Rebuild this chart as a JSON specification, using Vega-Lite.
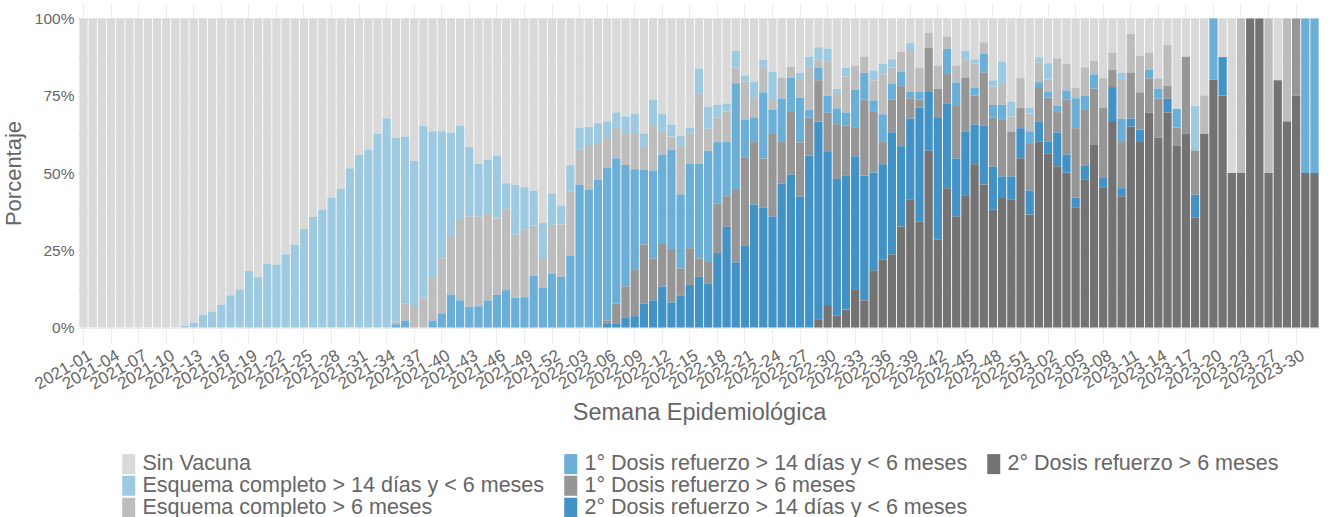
{
  "$schema": "https://vega.github.io/schema/vega-lite/v6.json",
  "autosize": {"type": "none"},
  "padding": {"left": 78, "top": 3, "right": 9, "bottom": 174},
  "width": 1242,
  "height": 340,
  "background": "white",
  "config": {"font": "Liberation Sans", "view": {"stroke": null}},
  "datasets": {
    "categorias": [
      {"k": "r2_6", "label": "2° Dosis refuerzo > 6 meses", "o": 1},
      {"k": "r2_14", "label": "2° Dosis refuerzo > 14 días y < 6 meses", "o": 2},
      {"k": "r1_6", "label": "1° Dosis refuerzo > 6 meses", "o": 3},
      {"k": "r1_14", "label": "1° Dosis refuerzo > 14 días y < 6 meses", "o": 4},
      {"k": "e6", "label": "Esquema completo > 6 meses", "o": 5},
      {"k": "e14", "label": "Esquema completo > 14 días y < 6 meses", "o": 6},
      {"k": "sv", "label": "Sin Vacuna", "o": 7}
    ],
    "semanas": [
      {"semana": "2021-01", "sv": 100},
      {"semana": "2021-02", "sv": 100},
      {"semana": "2021-03", "sv": 100},
      {"semana": "2021-04", "sv": 100},
      {"semana": "2021-05", "sv": 100},
      {"semana": "2021-06", "sv": 100},
      {"semana": "2021-07", "sv": 100},
      {"semana": "2021-08", "sv": 100},
      {"semana": "2021-09", "sv": 100},
      {"semana": "2021-10", "sv": 100},
      {"semana": "2021-11", "sv": 100},
      {"semana": "2021-12", "sv": 99.4, "e14": 0.6},
      {"semana": "2021-13", "sv": 98.4, "e14": 1.6},
      {"semana": "2021-14", "sv": 95.8, "e14": 4.2},
      {"semana": "2021-15", "sv": 94.8, "e14": 5.2},
      {"semana": "2021-16", "sv": 92.6, "e14": 7.4},
      {"semana": "2021-17", "sv": 89.6, "e14": 10.4},
      {"semana": "2021-18", "sv": 87.7, "e14": 12.3},
      {"semana": "2021-19", "sv": 81.7, "e14": 18.3},
      {"semana": "2021-20", "sv": 83.7, "e14": 16.3},
      {"semana": "2021-21", "sv": 79.3, "e14": 20.7},
      {"semana": "2021-22", "sv": 79.6, "e14": 20.4},
      {"semana": "2021-23", "sv": 76.3, "e14": 23.7},
      {"semana": "2021-24", "sv": 73.2, "e14": 26.8},
      {"semana": "2021-25", "sv": 68.1, "e14": 31.9},
      {"semana": "2021-26", "sv": 64.2, "e14": 35.8},
      {"semana": "2021-27", "sv": 61.8, "e14": 38.2},
      {"semana": "2021-28", "sv": 57.9, "e14": 42.1},
      {"semana": "2021-29", "sv": 55.2, "e14": 44.8},
      {"semana": "2021-30", "sv": 48.5, "e14": 51.5},
      {"semana": "2021-31", "sv": 44.2, "e14": 55.8},
      {"semana": "2021-32", "sv": 42.4, "e14": 57.6},
      {"semana": "2021-33", "sv": 37.3, "e14": 62.7},
      {"semana": "2021-34", "sv": 32.4, "e14": 67.6},
      {"semana": "2021-35", "sv": 38.7, "e14": 59.3, "e6": 0.9, "r1_14": 1.1},
      {"semana": "2021-36", "sv": 38.2, "e14": 54.1, "e6": 5.4, "r1_14": 2.3},
      {"semana": "2021-37", "sv": 46.0, "e14": 47.0, "e6": 7.0},
      {"semana": "2021-38", "sv": 34.8, "e14": 55.6, "e6": 9.6},
      {"semana": "2021-39", "sv": 36.5, "e14": 47.2, "e6": 14.0, "r1_14": 2.3},
      {"semana": "2021-40", "sv": 36.5, "e14": 41.1, "e6": 17.8, "r1_14": 4.6},
      {"semana": "2021-41", "sv": 37.0, "e14": 33.1, "e6": 19.2, "r1_14": 10.7},
      {"semana": "2021-42", "sv": 34.6, "e14": 30.6, "e6": 26.0, "r1_14": 8.8},
      {"semana": "2021-43", "sv": 41.6, "e14": 22.4, "e6": 29.3, "r1_14": 6.7},
      {"semana": "2021-44", "sv": 47.0, "e14": 17.0, "e6": 29.1, "r1_14": 6.9},
      {"semana": "2021-45", "sv": 45.7, "e14": 17.6, "e6": 27.9, "r1_14": 8.8},
      {"semana": "2021-46", "sv": 44.4, "e14": 20.3, "e6": 24.7, "r1_14": 10.6},
      {"semana": "2021-47", "sv": 53.3, "e14": 8.3, "e6": 26.3, "r1_14": 12.1},
      {"semana": "2021-48", "sv": 53.9, "e14": 16.1, "e6": 20.4, "r1_14": 9.6},
      {"semana": "2021-49", "sv": 54.6, "e14": 13.8, "e6": 21.8, "r1_14": 9.8},
      {"semana": "2021-50", "sv": 55.7, "e14": 11.3, "e6": 16.2, "r1_14": 16.8},
      {"semana": "2021-51", "sv": 66.2, "e14": 11.0, "e6": 10.0, "r1_14": 12.8},
      {"semana": "2021-52", "sv": 56.7, "e14": 10.1, "e6": 15.7, "r1_14": 17.5},
      {"semana": "2022-01", "sv": 60.5, "e14": 6.1, "e6": 17.0, "r1_14": 16.4},
      {"semana": "2022-02", "sv": 47.5, "e14": 8.6, "e6": 20.6, "r1_14": 23.3},
      {"semana": "2022-03", "sv": 35.3, "e14": 7.0, "e6": 11.4, "r1_14": 46.3},
      {"semana": "2022-04", "sv": 35.0, "e14": 6.3, "e6": 14.0, "r1_14": 44.7},
      {"semana": "2022-05", "sv": 33.9, "e14": 6.7, "e6": 11.5, "r1_14": 47.9},
      {"semana": "2022-06", "sv": 33.3, "e14": 5.4, "e6": 9.6, "r1_14": 49.4, "r1_6": 1.1, "r2_14": 1.2},
      {"semana": "2022-07", "sv": 30.4, "e14": 5.0, "e6": 9.8, "r1_14": 47.1, "r1_6": 6.5, "r2_14": 1.2},
      {"semana": "2022-08", "sv": 31.7, "e14": 5.7, "e6": 10.0, "r1_14": 39.3, "r1_6": 10.0, "r2_14": 3.3},
      {"semana": "2022-09", "sv": 30.9, "e14": 6.5, "e6": 11.4, "r1_14": 32.6, "r1_6": 14.9, "r2_14": 3.7},
      {"semana": "2022-10", "sv": 37.2, "e14": 4.4, "e6": 7.4, "r1_14": 24.1, "r1_6": 19.1, "r2_14": 7.8},
      {"semana": "2022-11", "sv": 26.2, "e14": 8.3, "e6": 14.7, "r1_14": 28.4, "r1_6": 13.6, "r2_14": 8.8},
      {"semana": "2022-12", "sv": 30.9, "e14": 5.8, "e6": 7.3, "r1_14": 28.7, "r1_6": 14.0, "r2_14": 13.3},
      {"semana": "2022-13", "sv": 34.3, "e14": 3.9, "e6": 4.2, "r1_14": 32.2, "r1_6": 17.3, "r2_14": 8.1},
      {"semana": "2022-14", "sv": 37.9, "e14": 3.4, "e6": 15.6, "r1_14": 24.0, "r1_6": 8.7, "r2_14": 10.4},
      {"semana": "2022-15", "sv": 35.3, "e14": 2.0, "e6": 9.7, "r1_14": 27.3, "r1_6": 11.9, "r2_14": 13.8},
      {"semana": "2022-16", "sv": 16.2, "e14": 8.2, "e6": 22.6, "r1_14": 30.6, "r1_6": 6.0, "r2_14": 16.4},
      {"semana": "2022-17", "sv": 28.5, "e14": 7.2, "e6": 7.1, "r1_14": 35.7, "r1_6": 7.2, "r2_14": 14.3},
      {"semana": "2022-18", "sv": 27.9, "e14": 4.1, "e6": 8.0, "r1_14": 19.9, "r1_6": 16.0, "r2_14": 24.1},
      {"semana": "2022-19", "sv": 27.5, "e14": 2.6, "e6": 9.9, "r1_14": 17.5, "r1_6": 9.9, "r2_14": 32.6},
      {"semana": "2022-20", "sv": 10.5, "e14": 5.4, "e6": 5.1, "r1_14": 34.2, "r1_6": 23.7, "r2_14": 21.1},
      {"semana": "2022-21", "sv": 18.4, "e14": 2.0, "e6": 12.3, "r1_14": 12.2, "r1_6": 28.6, "r2_14": 26.5},
      {"semana": "2022-22", "sv": 20.4, "e14": 5.3, "e6": 6.3, "r1_14": 7.7, "r1_6": 20.5, "r2_14": 39.8},
      {"semana": "2022-23", "sv": 13.3, "e14": 2.7, "e6": 7.9, "r1_14": 21.4, "r1_6": 16.0, "r2_14": 38.7},
      {"semana": "2022-24", "sv": 17.2, "e14": 9.2, "e6": 3.2, "r1_14": 7.8, "r1_6": 26.7, "r2_14": 35.9},
      {"semana": "2022-25", "sv": 19.1, "e6": 6.8, "r1_14": 13.8, "r1_6": 13.7, "r2_14": 46.6},
      {"semana": "2022-26", "sv": 15.6, "e6": 3.6, "r1_14": 10.8, "r1_6": 20.5, "r2_14": 49.5},
      {"semana": "2022-27", "sv": 17.5, "e14": 2.1, "e6": 6.1, "r1_14": 14.4, "r1_6": 17.5, "r2_14": 42.4},
      {"semana": "2022-28", "sv": 12.3, "e14": 3.7, "e6": 13.6, "r1_14": 2.5, "r1_6": 12.3, "r2_14": 55.6},
      {"semana": "2022-29", "sv": 9.3, "e14": 4.1, "e6": 2.6, "r1_14": 4.0, "r1_6": 13.3, "r2_14": 64.0, "r2_6": 2.7},
      {"semana": "2022-30", "sv": 9.7, "e14": 4.1, "e6": 11.2, "r1_14": 5.5, "r1_6": 12.5, "r2_14": 50.0, "r2_6": 7.0},
      {"semana": "2022-31", "sv": 22.8, "e14": 1.3, "e6": 5.0, "r1_14": 5.1, "r1_6": 17.7, "r2_14": 44.3, "r2_6": 3.8},
      {"semana": "2022-32", "sv": 15.9, "e14": 2.9, "e6": 11.6, "r1_14": 4.3, "r1_6": 16.0, "r2_14": 43.5, "r2_6": 5.8},
      {"semana": "2022-33", "sv": 15.3, "e6": 7.8, "r1_14": 12.3, "r1_6": 9.2, "r2_14": 43.0, "r2_6": 12.4},
      {"semana": "2022-34", "sv": 12.3, "e6": 5.3, "r1_14": 8.7, "r1_6": 24.5, "r2_14": 40.4, "r2_6": 8.8},
      {"semana": "2022-35", "sv": 16.8, "e14": 3.2, "e6": 6.5, "r1_14": 3.5, "r1_6": 19.8, "r2_14": 31.8, "r2_6": 18.4},
      {"semana": "2022-36", "sv": 14.6, "e14": 3.5, "e6": 12.9, "r1_14": 9.0, "r1_6": 7.2, "r2_14": 30.9, "r2_6": 21.9},
      {"semana": "2022-37", "sv": 13.2, "e14": 2.6, "e6": 5.2, "r1_14": 5.3, "r1_6": 10.5, "r2_14": 39.5, "r2_6": 23.7},
      {"semana": "2022-38", "sv": 10.8, "e6": 6.5, "r1_14": 4.5, "r1_6": 19.5, "r2_14": 26.0, "r2_6": 32.7},
      {"semana": "2022-39", "sv": 8.0, "e14": 2.2, "e6": 13.4, "r1_14": 2.2, "r1_6": 6.6, "r2_14": 26.3, "r2_6": 41.3},
      {"semana": "2022-40", "sv": 15.9, "e6": 7.7, "r1_14": 2.7, "r1_6": 2.5, "r2_14": 36.9, "r2_6": 34.3},
      {"semana": "2022-41", "sv": 4.7, "e6": 4.8, "r1_6": 14.3, "r2_14": 19.0, "r2_6": 57.2},
      {"semana": "2022-42", "sv": 15.2, "e6": 7.5, "r1_6": 9.3, "r2_14": 39.6, "r2_6": 28.4},
      {"semana": "2022-43", "sv": 5.8, "e6": 4.0, "r1_14": 7.9, "r1_6": 9.7, "r2_14": 27.5, "r2_6": 45.1},
      {"semana": "2022-44", "sv": 15.2, "e6": 5.5, "r1_14": 7.6, "r1_6": 17.0, "r2_14": 18.8, "r2_6": 35.9},
      {"semana": "2022-45", "sv": 10.4, "e14": 3.0, "e6": 5.7, "r1_6": 17.6, "r2_14": 20.7, "r2_6": 42.6},
      {"semana": "2022-46", "sv": 13.2, "e14": 1.3, "e6": 7.9, "r1_14": 2.6, "r1_6": 9.3, "r2_14": 12.9, "r2_6": 52.8},
      {"semana": "2022-47", "sv": 7.7, "e6": 3.8, "r1_14": 5.9, "r1_6": 17.3, "r2_14": 19.0, "r2_6": 46.3},
      {"semana": "2022-48", "sv": 20.0, "e14": 2.0, "e6": 6.0, "r1_14": 4.0, "r1_6": 15.9, "r2_14": 14.0, "r2_6": 38.1},
      {"semana": "2022-49", "sv": 13.9, "e14": 7.0, "e6": 7.0, "r1_14": 4.7, "r1_6": 18.5, "r2_14": 7.0, "r2_6": 41.9},
      {"semana": "2022-50", "sv": 26.9, "e14": 4.8, "e6": 4.9, "r1_6": 14.5, "r2_14": 7.5, "r2_6": 41.4},
      {"semana": "2022-51", "sv": 19.3, "e6": 9.7, "r1_6": 6.5, "r2_14": 9.7, "r2_6": 54.8},
      {"semana": "2022-52", "sv": 28.8, "e14": 1.9, "e6": 5.8, "r1_14": 4.1, "r1_6": 15.1, "r2_14": 7.7, "r2_6": 36.6},
      {"semana": "2023-01", "sv": 12.6, "e14": 1.6, "e6": 6.4, "r1_14": 1.6, "r1_6": 11.1, "r2_14": 6.4, "r2_6": 60.3},
      {"semana": "2023-02", "sv": 14.5, "e14": 5.3, "e6": 3.8, "r1_14": 2.0, "r1_6": 14.3, "r2_14": 3.8, "r2_6": 56.3},
      {"semana": "2023-03", "sv": 12.9, "e6": 15.3, "r1_14": 2.1, "r1_6": 6.6, "r2_14": 10.9, "r2_6": 52.2},
      {"semana": "2023-04", "sv": 14.6, "e6": 8.7, "r1_14": 3.0, "r1_6": 17.7, "r2_14": 5.9, "r2_6": 50.1},
      {"semana": "2023-05", "sv": 22.4, "e6": 3.4, "r1_14": 9.7, "r1_6": 22.5, "r2_14": 3.2, "r2_6": 38.8},
      {"semana": "2023-06", "sv": 15.8, "e6": 9.1, "r1_14": 4.7, "r1_6": 18.1, "r2_14": 4.5, "r2_6": 47.8},
      {"semana": "2023-07", "sv": 13.6, "e6": 4.5, "r1_14": 4.6, "r1_6": 18.2, "r2_6": 59.1},
      {"semana": "2023-08", "sv": 19.3, "e6": 9.7, "r1_6": 22.6, "r2_14": 3.2, "r2_6": 45.2},
      {"semana": "2023-09", "sv": 11.0, "e6": 5.6, "r1_6": 5.6, "r2_14": 11.0, "r2_6": 66.8},
      {"semana": "2023-10", "sv": 17.5, "e14": 2.4, "e6": 12.6, "r1_14": 7.5, "r1_6": 14.9, "r2_14": 2.6, "r2_6": 42.5},
      {"semana": "2023-11", "sv": 5.0, "e6": 12.5, "r1_6": 14.9, "r2_14": 2.6, "r2_6": 65.0},
      {"semana": "2023-12", "sv": 12.0, "e6": 11.9, "r1_6": 12.0, "r2_14": 4.1, "r2_6": 60.0},
      {"semana": "2023-13", "sv": 11.0, "e6": 5.6, "r1_14": 2.8, "r1_6": 11.1, "r2_6": 69.5},
      {"semana": "2023-14", "sv": 19.4, "e6": 3.3, "r1_14": 3.2, "r1_6": 12.7, "r2_6": 61.4},
      {"semana": "2023-15", "sv": 8.6, "e6": 13.2, "r1_6": 4.2, "r2_14": 4.4, "r2_6": 69.6},
      {"semana": "2023-16", "sv": 29.3, "r1_14": 6.0, "r1_6": 5.8, "r2_6": 58.9},
      {"semana": "2023-17", "sv": 12.4, "r1_6": 25.0, "r2_6": 62.6},
      {"semana": "2023-18", "sv": 28.2, "e14": 14.5, "r1_6": 14.3, "r2_14": 7.3, "r2_6": 35.7},
      {"semana": "2023-19", "sv": 24.9, "e6": 12.5, "r2_6": 62.6},
      {"semana": "2023-20", "r1_14": 19.8, "r2_6": 80.2},
      {"semana": "2023-21", "sv": 12.5, "r2_14": 12.4, "r2_6": 75.1},
      {"semana": "2023-22", "sv": 50, "r2_6": 50},
      {"semana": "2023-23", "e6": 50, "r2_6": 50},
      {"semana": "2023-24", "r2_6": 100},
      {"semana": "2023-26", "r2_6": 100},
      {"semana": "2023-27", "e6": 50, "r2_6": 50},
      {"semana": "2023-28", "sv": 20, "r2_6": 80},
      {"semana": "2023-29", "e6": 33.3, "r2_6": 66.7},
      {"semana": "2023-30", "r1_6": 25, "r2_6": 75},
      {"semana": "2023-31", "r1_14": 50, "r2_6": 50},
      {"semana": "2023-32", "r1_14": 50, "r2_6": 50}
    ]
  },
  "data": {"name": "semanas"},
  "transform": [
    {"fold": ["sv", "e14", "e6", "r1_14", "r1_6", "r2_14", "r2_6"], "as": ["k", "v"]},
    {"filter": "datum.v > 0"},
    {"lookup": "k", "from": {"data": {"name": "categorias"}, "key": "k", "fields": ["label", "o"]}}
  ],
  "mark": {"type": "bar"},
  "encoding": {
    "x": {
      "field": "semana",
      "type": "ordinal",
      "scale": {"paddingInner": 0.1, "paddingOuter": 0.15},
      "axis": {
        "title": "Semana Epidemiológica",
        "values": ["2021-01","2021-04","2021-07","2021-10","2021-13","2021-16","2021-19","2021-22","2021-25","2021-28","2021-31","2021-34","2021-37","2021-40","2021-43","2021-46","2021-49","2021-52","2022-03","2022-06","2022-09","2022-12","2022-15","2022-18","2022-21","2022-24","2022-27","2022-30","2022-33","2022-36","2022-39","2022-42","2022-45","2022-48","2022-51","2023-02","2023-05","2023-08","2023-11","2023-14","2023-17","2023-20","2023-23","2023-27","2023-30"],
        "labelAngle": -30,
        "labelAlign": "right",
        "labelBaseline": "top",
        "labelPadding": 4,
        "labelOffset": 3,
        "labelFontSize": 17,
        "labelColor": "#666666",
        "ticks": false,
        "domain": false,
        "grid": true,
        "gridDash": [1, 2],
        "gridColor": "#cccccc",
        "titleFontSize": 23.5,
        "titleFontWeight": "normal",
        "titleColor": "#666666",
        "titleX": 621,
        "titleY": 76.5,
        "titleAlign": "center",
        "titleBaseline": "alphabetic",
        "labelOverlap": false
      }
    },
    "y": {
      "field": "v",
      "type": "quantitative",
      "stack": "normalize",
      "scale": {"domain": [-0.05, 1.05], "nice": false, "zero": false},
      "axis": {
        "title": "Porcentaje",
        "values": [0, 0.125, 0.25, 0.375, 0.5, 0.625, 0.75, 0.875, 1],
        "labelExpr": "(datum.value * 8) % 2 == 0 ? format(datum.value, '.0%') : ''",
        "labelFontSize": 15.5,
        "labelColor": "#666666",
        "labelPadding": 4,
        "ticks": false,
        "domain": false,
        "grid": true,
        "gridDash": [1, 2],
        "gridColor": "#cccccc",
        "titleFontSize": 22,
        "titleFontWeight": "normal",
        "titleColor": "#666666",
        "titleX": -53,
        "titleY": 170,
        "titleAngle": -90,
        "titleAlign": "center",
        "titleBaseline": "bottom",
        "labelOverlap": false
      }
    },
    "color": {
      "field": "label",
      "type": "nominal",
      "scale": {
        "domain": ["Sin Vacuna", "Esquema completo > 14 días y < 6 meses", "Esquema completo > 6 meses", "1° Dosis refuerzo > 14 días y < 6 meses", "1° Dosis refuerzo > 6 meses", "2° Dosis refuerzo > 14 días y < 6 meses", "2° Dosis refuerzo > 6 meses", " "],
        "range": ["#d9d9d9", "#9ecae1", "#bdbdbd", "#6baed6", "#969696", "#4292c6", "#737373", "rgba(0,0,0,0)"]
      },
      "legend": {
        "title": null,
        "orient": "none",
        "legendX": 40,
        "legendY": 450,
        "columns": 3,
        "columnPadding": 15,
        "rowPadding": -3,
        "padding": 0,
        "symbolType": "M-0.65,-1H0.65V1H-0.65Z",
        "symbolSize": 400,
        "symbolStrokeWidth": 0,
        "symbolOpacity": 1,
        "labelFontSize": 21.5,
        "labelColor": "#666666",
        "labelOffset": 3,
        "labelLimit": 1000
      }
    },
    "order": {"field": "o", "type": "quantitative", "sort": "ascending"}
  }
}
